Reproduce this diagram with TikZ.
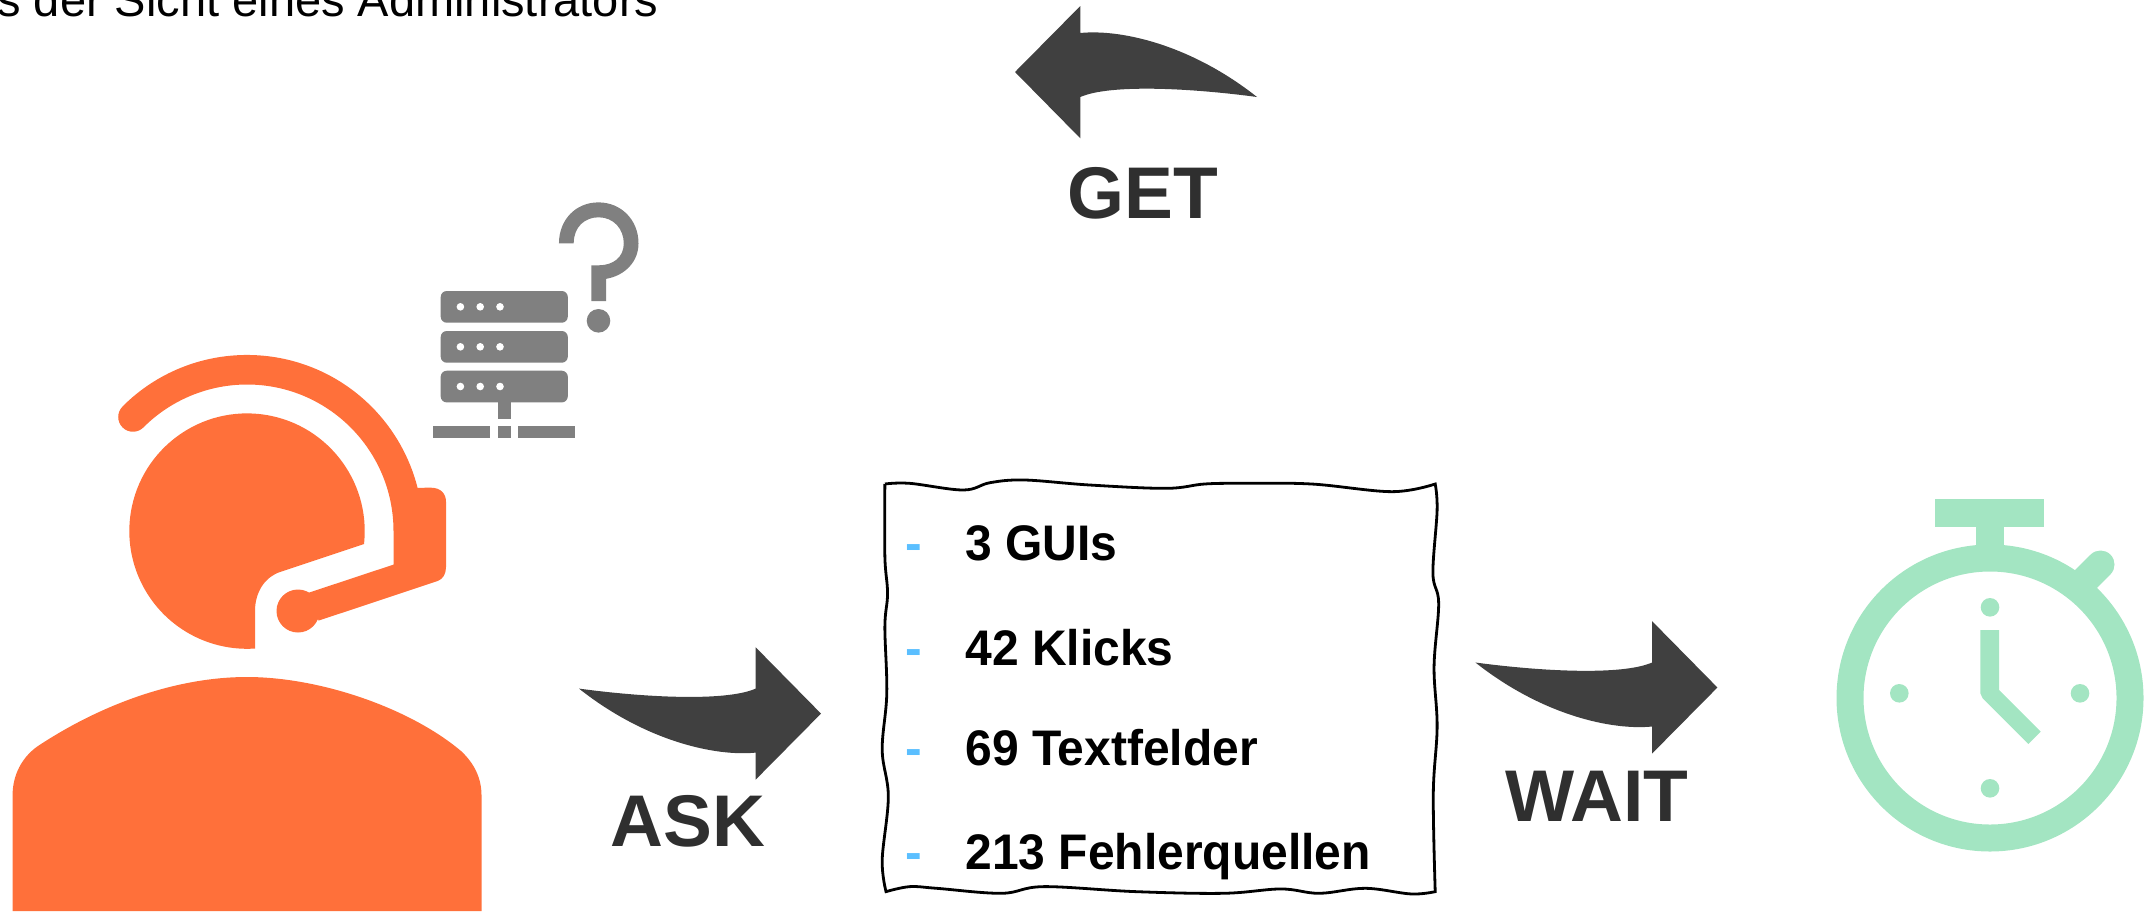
\documentclass[tikz,border=0pt]{standalone}
\usepackage{fontspec}
\setmainfont{Liberation Sans}
\newfontfamily\listfam[FakeStretch=0.96]{Liberation Sans}
\definecolor{persona}{HTML}{FF703A}
\definecolor{servergray}{HTML}{808080}
\definecolor{arrowgray}{HTML}{404040}
\definecolor{labelgray}{HTML}{2F2F2F}
\definecolor{clockgreen}{HTML}{A3E5C2}
\definecolor{dashblue}{HTML}{5BBFFF}
\tikzset{
  headline/.style={font=\fontsize{23.5pt}{26pt}\selectfont,text=black,anchor=base west,inner sep=0pt},
  actionlabel/.style={font=\fontsize{36.6pt}{40pt}\selectfont\bfseries,text=labelgray,anchor=base,inner sep=0pt},
  listitem/.style={font=\listfam\fontsize{25pt}{28pt}\selectfont\bfseries,text=black,anchor=base west,inner sep=0pt},
  listdash/.style={font=\fontsize{25pt}{28pt}\selectfont\bfseries,text=dashblue,anchor=base west,inner sep=0pt},
}
\newcommand{\blockarrow}{%
  \fill[arrowgray] (1015,72) -- (1080.3,6) -- (1080.3,33)
    .. controls (1120,29) and (1190,44) .. (1257,97)
    .. controls (1190,88) and (1110,84) .. (1080.3,97)
    -- (1080.3,138.3) -- cycle;}
\begin{document}
\begin{tikzpicture}[x=0.5pt,y=0.5pt,yscale=-1]
\useasboundingbox (0,0) rectangle (2156,911);
\clip (0,0) rectangle (2156,911);
\node[headline] (title) at (-3,16) {s der Sicht eines Administrators};
% person
\fill[persona] (364,544) arc[start angle=6.3,end angle=-274,radius=117.7]
  -- (255,611) .. controls (255,592) and (265,577) .. (280,572) -- cycle;
\fill[persona] (122.5,406.5) arc[start angle=-135,end angle=-14.2,radius=176]
  -- (431,487.7) .. controls (440,487.7) and (446,493) .. (446,501.7)
  -- (446,567) .. controls (446,574) and (443,579) .. (437.7,581)
  -- (318.6,620.6) -- (309,592.6) -- (393.5,564.6) -- (393.5,531)
  arc[start angle=0,end angle=-135,radius=146.5]
  arc[start angle=45,end angle=225,radius=14.75] -- cycle;
\fill[persona] (298,611) circle[radius=21.5];
\fill[persona] (12.6,911) -- (12.6,795)
  .. controls (12.6,775) and (22,757) .. (38,746)
  .. controls (100,705) and (175,677) .. (247,677)
  .. controls (320,677) and (410,708) .. (461,751)
  .. controls (474,763) and (481.5,778) .. (481.5,795) -- (481.5,911) -- cycle;
% server
\foreach \yy in {291,331,370.7}{
  \fill[servergray,rounded corners=3pt] (440.7,\yy) rectangle (567.8,\yy+31.7);
  \foreach \xx in {460.4,480.2,500}{\fill[white] (\xx,\yy+15.8) circle[radius=3.8];}
}
\fill[servergray] (498,402) rectangle (510.5,418.7);
\fill[servergray] (432.7,426) rectangle (490.3,437.8);
\fill[servergray] (498,426) rectangle (510.5,437.8);
\fill[servergray] (518,426) rectangle (575.3,437.8);
% question mark
\begin{scope}[shift={(0,180)},xscale=0.4209,yscale=0.4662]
\fill[servergray] (1328,136) -- (1363,136) .. controls (1363,100) and (1390,80) .. (1422,80)
  .. controls (1458,80) and (1482,105) .. (1482,136)
  .. controls (1482,165) and (1458,183) .. (1422,183)
  -- (1405,183) -- (1405,260) -- (1440,260) -- (1440,212)
  .. controls (1485,205) and (1517,175) .. (1517,136)
  .. controls (1517,85) and (1475,48) .. (1422,48)
  .. controls (1368,48) and (1328,85) .. (1328,136) -- cycle;
\end{scope}
\fill[servergray] (598.5,320.8) circle[radius=11.8];
% arrows
\blockarrow
\begin{scope}[shift={(1836,785.6)},xscale=-1,yscale=-1]\blockarrow\end{scope}
\begin{scope}[shift={(2732.4,759.5)},xscale=-1,yscale=-1]\blockarrow\end{scope}
\node[actionlabel] (get) at (1143,218) {GET};
\node[actionlabel] (ask) at (688,846) {ASK};
\node[actionlabel] (wait) at (1597,821) {WAIT};
% list box
\begin{scope}[shift={(860,460)},xscale=0.3827,yscale=0.3333]
\draw[black,line width=1.4pt,line join=miter]
  plot[smooth,tension=0.6] coordinates {(65,72) (130,70) (270,90) (340,68) (430,60) (600,75) (800,85) (900,72) (1000,70) (1180,72) (1390,95) (1503,72)}
  -- plot[smooth,tension=0.6] coordinates {(1503,72) (1508,150) (1497,340) (1512,430) (1500,620) (1508,800) (1498,1000) (1503,1295)}
  -- plot[smooth,tension=0.6] coordinates {(1503,1295) (1440,1302) (1320,1285) (1200,1300) (1100,1287) (950,1300) (720,1295) (480,1280) (370,1300) (200,1285) (130,1280) (68,1295)}
  -- plot[smooth,tension=0.6] coordinates {(68,1295) (58,1200) (74,1010) (58,870) (70,700) (65,500) (72,400) (65,290) (65,72)};
\end{scope}
\foreach \nm/\yy/\tx in {i/560/3 GUIs,ii/665/42 Klicks,iii/765/69 Textfelder,iv/869/213 Fehlerquellen}{
  \node[listdash] (dash\nm) at (905,\yy) {-};
  \node[listitem] (item\nm) at (965,\yy) {\tx};
}
% stopwatch
\fill[clockgreen,even odd rule] (1990,698) circle[radius=153.5] (1990,698) circle[radius=126.5];
\fill[clockgreen] (1935.3,499) rectangle (2044,526.7);
\fill[clockgreen] (1976,526) rectangle (2004,552);
\draw[clockgreen,line width=14pt,line cap=round] (2080,585) -- (2100.5,564.5);
\foreach \cx/\cy in {1990/607.3,1990/788.3,1899.3/693.3,2080/693.3}{
  \fill[clockgreen] (\cx,\cy) circle[radius=9.3];
}
\fill[clockgreen] (1980.3,630) -- (1999,630) -- (1999,690) -- (2040.7,731.7) -- (2028.3,744) -- (1982.7,698.3) -- (1980.3,693.3) -- cycle;
\end{tikzpicture}
\end{document}
